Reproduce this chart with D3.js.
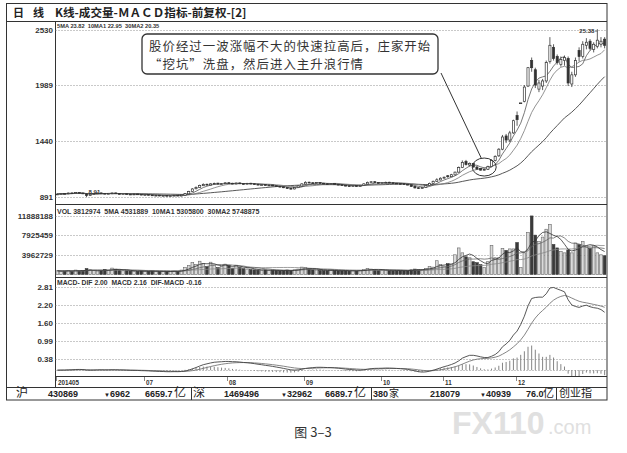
<!DOCTYPE html>
<html><head><meta charset="utf-8">
<script src="https://cdn.jsdelivr.net/npm/d3@7"></script>
<style>
html,body{margin:0;padding:0;background:#fff;}
svg{display:block;}
text{font-family:"Liberation Sans","DejaVu Sans",Arial,sans-serif;}
.cjk{font-family:"Noto Sans CJK SC","Noto Sans CJK JP",sans-serif;}
.pre{white-space:pre;}
</style></head><body>
<svg id="c" width="627" height="453" fill="#222"></svg>
<script>
// ---------------- data ----------------
const monthLabels = ["201405","07","08","09","10","11","12"];
const monthIndex  = [0,24,47,68,89,106,126];

const opens = [
9.15,9.20,9.26,9.22,9.31,9.28,9.36,9.30,9.22,9.06,
9.18,9.24,9.31,9.27,9.21,9.25,9.31,9.25,9.19,9.23,
9.19,9.14,9.21,9.18,9.11,9.16,9.11,9.04,9.09,9.01,
9.07,9.00,9.03,9.09,9.01,9.08,9.22,9.44,9.72,9.84,
10.02,10.16,10.08,10.18,10.27,10.17,10.21,10.31,10.26,10.19,
10.29,10.23,10.17,10.26,10.21,10.16,10.08,10.13,10.04,10.09,
10.01,9.96,9.91,9.83,9.76,9.70,9.83,9.98,10.18,10.36,
10.31,10.27,10.33,10.26,10.21,10.17,10.23,10.16,10.11,10.06,
10.01,9.97,10.03,9.94,10.04,10.18,10.33,10.41,10.33,10.27,
10.29,10.36,10.31,10.26,10.23,10.21,10.16,10.11,9.96,9.82,
9.74,9.84,10.03,10.24,10.44,10.58,10.76,11.00,10.90,11.08,
11.35,11.80,12.40,12.05,12.20,11.85,11.70,11.55,11.62,11.90,
12.50,12.95,13.60,14.90,14.50,15.20,16.90,18.15,18.30,19.80,
22.30,21.40,19.50,19.80,20.30,22.20,23.60,22.70,21.90,22.30,
22.50,20.00,20.90,23.30,22.70,23.80,24.20,23.40,23.70,23.90,24.40];

const highs = [
9.25,9.30,9.30,9.34,9.35,9.40,9.40,9.32,9.26,9.22,
9.30,9.34,9.35,9.30,9.30,9.34,9.34,9.28,9.26,9.26,
9.22,9.24,9.24,9.20,9.18,9.18,9.14,9.12,9.12,9.10,
9.10,9.08,9.12,9.12,9.14,9.30,9.52,9.78,9.95,10.12,
10.25,10.22,10.26,10.32,10.30,10.28,10.36,10.35,10.30,10.32,
10.33,10.27,10.30,10.30,10.25,10.20,10.18,10.16,10.12,10.12,
10.04,9.99,9.94,9.86,9.80,9.90,10.06,10.26,10.45,10.42,
10.36,10.38,10.37,10.30,10.26,10.27,10.26,10.20,10.14,10.10,
10.05,10.07,10.06,10.10,10.26,10.42,10.48,10.46,10.36,10.35,
10.42,10.40,10.34,10.30,10.26,10.25,10.20,10.14,10.00,9.86,
9.90,10.10,10.32,10.52,10.75,10.84,10.92,11.05,11.18,11.40,
11.90,12.50,12.55,12.30,12.25,11.95,11.75,11.70,11.98,12.60,
13.00,13.70,15.00,15.10,15.40,16.50,17.30,18.15,19.90,21.67,
22.60,21.60,20.40,20.50,22.30,24.60,23.90,22.90,22.70,22.80,
22.70,21.20,22.60,23.60,24.20,24.50,24.40,24.10,25.38,24.60,24.60];

const lows = [
9.12,9.16,9.18,9.18,9.24,9.25,9.27,9.20,8.91,9.02,
9.14,9.20,9.24,9.18,9.18,9.22,9.22,9.16,9.16,9.14,
9.11,9.10,9.14,9.08,9.08,9.06,9.02,9.00,8.98,8.98,
8.96,8.97,9.00,8.98,8.98,9.05,9.18,9.40,9.66,9.80,
9.98,10.05,10.04,10.14,10.14,10.12,10.18,10.20,10.16,10.15,
10.18,10.14,10.14,10.16,10.12,10.06,10.03,10.02,10.00,9.96,
9.91,9.86,9.78,9.70,9.66,9.66,9.80,9.95,10.14,10.26,
10.22,10.24,10.22,10.16,10.14,10.14,10.12,10.06,10.02,9.96,
9.94,9.93,9.92,9.90,10.00,10.15,10.30,10.28,10.24,10.24,
10.26,10.26,10.22,10.18,10.16,10.12,10.06,9.90,9.76,9.70,
9.70,9.80,10.00,10.20,10.40,10.54,10.72,10.80,10.86,11.04,
11.30,11.75,12.00,11.90,11.80,11.60,11.50,11.50,11.58,11.85,
12.40,12.85,13.50,14.20,14.30,15.10,15.90,18.15,18.20,19.70,
21.20,19.60,19.20,19.40,20.10,22.00,22.30,21.90,21.70,21.80,
19.80,19.70,20.70,22.20,22.50,23.40,23.30,23.10,23.50,23.60,23.50];

const closes = [
9.20,9.25,9.22,9.30,9.28,9.35,9.30,9.24,9.05,9.18,
9.25,9.30,9.28,9.22,9.26,9.30,9.25,9.20,9.22,9.18,
9.15,9.20,9.18,9.12,9.15,9.10,9.05,9.08,9.02,9.06,
9.00,9.04,9.08,9.02,9.10,9.25,9.45,9.70,9.85,10.05,
10.15,10.10,10.20,10.25,10.18,10.22,10.30,10.25,10.20,10.28,
10.22,10.18,10.25,10.20,10.15,10.10,10.12,10.05,10.08,10.00,
9.95,9.90,9.82,9.75,9.72,9.85,10.00,10.20,10.35,10.30,
10.28,10.32,10.25,10.20,10.18,10.22,10.15,10.10,10.05,10.00,
9.98,10.02,9.95,10.05,10.20,10.35,10.40,10.32,10.28,10.30,
10.35,10.30,10.25,10.22,10.20,10.15,10.10,9.95,9.80,9.75,
9.85,10.05,10.25,10.45,10.60,10.75,10.85,10.90,11.10,11.35,
11.80,12.30,12.10,12.20,11.85,11.65,11.55,11.62,11.90,12.50,
12.90,13.60,14.80,14.50,15.20,16.40,16.50,18.15,19.70,21.60,
21.60,19.90,20.10,20.30,22.10,23.80,22.50,22.10,22.40,22.60,
20.10,20.90,22.30,22.70,23.90,24.10,23.50,23.90,24.30,24.20,23.80];

// volume in millions of shares
const volumes = [
0.75,0.68,0.70,0.82,0.65,0.90,0.72,0.80,1.20,0.95,
0.85,0.70,0.78,1.05,0.88,1.30,1.10,0.92,0.75,0.80,
0.70,0.62,0.66,0.74,0.60,0.68,0.72,0.58,0.64,0.60,
0.62,0.58,0.70,0.66,0.90,1.40,1.80,2.40,2.00,2.70,
2.20,1.60,2.50,1.90,1.40,1.60,2.10,1.80,1.30,1.90,
1.50,1.20,1.10,1.00,0.95,0.90,0.85,0.92,0.80,0.88,
0.85,0.78,0.82,0.90,0.75,0.95,1.10,1.50,1.40,1.10,
0.95,0.90,0.85,0.80,0.78,0.85,0.80,0.76,0.74,0.80,
0.70,0.75,0.72,0.85,1.00,1.25,1.10,0.95,0.85,0.90,
0.88,0.80,0.75,0.78,0.82,0.76,0.80,0.95,1.10,1.00,
1.00,1.20,1.60,1.50,2.80,2.00,1.70,2.20,2.00,4.00,
5.40,4.40,3.60,3.40,2.60,2.40,2.00,1.40,2.60,5.90,
3.40,3.40,5.30,4.90,5.20,5.20,6.50,1.40,4.40,8.50,
11.90,8.00,6.70,7.60,9.20,10.20,6.10,5.40,4.70,4.40,
5.00,4.40,6.40,6.10,6.70,5.80,5.30,5.80,4.40,4.00,3.81];

const priceTicks = [25.30,19.89,14.40,8.91];
const priceTickLabels = ["2530","1989","1440","891"];
const volTicks = [11.888188,7.925459,3.962729];
const volTickLabels = ["11888188","7925459","3962729"];
const macdTicks = [2.81,2.20,1.60,0.99,0.38];
const macdTickLabels = ["2.81","2.20","1.60","0.99","0.38"];

const titleText = "K线-成交量-ＭＡＣＤ指标-前复权-[2]";
const priceHeader = "5MA 23.82  10MA1 22.95  30MA2 20.35";
const volHeader = "VOL 3812974  5MA 4531889  10MA1 5305800  30MA2 5748875";
const macdHeader = "MACD- DIF 2.00  MACD 2.16  DIF-MACD -0.16";
const noteLines = ["股价经过一波涨幅不大的快速拉高后，庄家开始","“挖坑”洗盘，然后进入主升浪行情"];
const caption = "图 3–3";

// ---------------- indicators ----------------
function sma(arr, n){ return arr.map((_,i)=>d3.mean(arr.slice(Math.max(0,i-n+1), i+1))); }
function ema(arr, n){ const a=2/(n+1); let e; return arr.map((v,i)=> e = (i===0? v : e + a*(v-e))); }
const ma5 = sma(closes,5), ma10 = sma(closes,10), ma30 = sma(closes,30);
const vma5 = sma(volumes,5), vma10 = sma(volumes,10), vma30 = sma(volumes,30);
const e12 = ema(closes,12), e26 = ema(closes,26);
const dif = e12.map((v,i)=>v-e26[i]);
const dea = ema(dif,9);
const hist = dif.map((v,i)=>v-dea[i]);

// ---------------- layout ----------------
const svg = d3.select("#c");
const N = closes.length;
const PL = 55.5, PR = 606.5;
const x = d3.scaleBand().domain(d3.range(N)).range([56,606]).paddingInner(0.25).paddingOuter(0);
const bw = x.bandwidth();
const xc = i => x(i) + bw/2;

const yP = d3.scaleLinear().domain([8.91,25.30]).range([197,30]);
const yV = d3.scaleLinear().domain([0,11.888188]).range([274.5,216]);
const yM = d3.scaleLinear().domain([0,2.81]).range([370.2,287]);

const defs = svg.append("defs");
function clip(id,y0,y1){ defs.append("clipPath").attr("id",id).append("rect").attr("x",PL).attr("y",y0).attr("width",PR-PL).attr("height",y1-y0); }
clip("cp",22,204); clip("cv",205,277); clip("cm",278,376);

// frame
const frame = svg.append("g").attr("stroke","#333").attr("stroke-width",1).attr("fill","none");
frame.append("rect").attr("x",6.5).attr("y",3.5).attr("width",600.5).attr("height",396.5);
frame.append("line").attr("x1",6.5).attr("x2",607).attr("y1",21.5).attr("y2",21.5);
frame.append("line").attr("x1",PL).attr("x2",PL).attr("y1",21.5).attr("y2",387.5);
frame.append("line").attr("x1",PL).attr("x2",607).attr("y1",204.5).attr("y2",204.5);
frame.append("line").attr("x1",PL).attr("x2",607).attr("y1",277.5).attr("y2",277.5);
frame.append("line").attr("x1",PL).attr("x2",607).attr("y1",376.5).attr("y2",376.5);
frame.append("line").attr("x1",6.5).attr("x2",607).attr("y1",387.5).attr("y2",387.5);
[191.5,371.5,556.5].forEach(xx=>frame.append("line").attr("x1",xx).attr("x2",xx).attr("y1",387.5).attr("y2",400));

// title
svg.append("text").attr("class","cjk").attr("x",13).attr("y",17).attr("font-size",11).attr("font-weight","bold").attr("fill","#222").text("日");
svg.append("text").attr("class","cjk").attr("x",33).attr("y",17).attr("font-size",11).attr("font-weight","bold").attr("fill","#222").text("线");
svg.append("text").attr("class","cjk").attr("x",55).attr("y",17).attr("font-size",11.6).attr("font-weight","bold").attr("fill","#222").text(titleText);

// grids + tick labels
function grid(ticks, labels, scale){
  const g = svg.append("g");
  g.selectAll("line").data(ticks).join("line")
    .attr("x1",PL).attr("x2",PR).attr("y1",d=>Math.round(scale(d))+0.5).attr("y2",d=>Math.round(scale(d))+0.5)
    .attr("stroke","#777").attr("stroke-width",0.8).attr("stroke-dasharray","1,2");
  g.selectAll("text").data(ticks).join("text")
    .attr("x",53).attr("y",d=>scale(d)).attr("dy","0.35em").attr("text-anchor","end")
    .attr("font-size",8).attr("font-weight","bold").attr("fill","#333")
    .text((d,i)=>labels[i]);
}
grid(priceTicks, priceTickLabels, yP);
grid(volTicks, volTickLabels, yV);
grid(macdTicks, macdTickLabels, yM);
svg.append("line").attr("x1",PL).attr("x2",PR).attr("y1",Math.round(yM(0))+0.5).attr("y2",Math.round(yM(0))+0.5)
  .attr("stroke","#777").attr("stroke-width",0.8).attr("stroke-dasharray","1,2");

// headers
svg.append("text").attr("class","pre").attr("x",57).attr("y",28).attr("font-size",5.7).attr("font-weight","bold").attr("fill","#333").text(priceHeader);
svg.append("text").attr("class","pre").attr("x",57).attr("y",213.5).attr("font-size",7).attr("font-weight","bold").attr("fill","#333").text(volHeader);
svg.append("text").attr("class","pre").attr("x",57).attr("y",284.5).attr("font-size",6.8).attr("font-weight","bold").attr("fill","#333").text(macdHeader);

// ---------- price panel ----------
const gp = svg.append("g").attr("clip-path","url(#cp)");
const idx = d3.range(N);
const line = (scale) => d3.line().x((d,i)=>xc(i)).y(d=>scale(d));
gp.append("path").attr("d",line(yP)(ma30)).attr("fill","none").attr("stroke","#444").attr("stroke-width",0.9);
gp.append("path").attr("d",line(yP)(ma10)).attr("fill","none").attr("stroke","#777").attr("stroke-width",0.8);
gp.append("path").attr("d",line(yP)(ma5)).attr("fill","none").attr("stroke","#555").attr("stroke-width",0.8);
gp.selectAll("line.w").data(idx).join("line").attr("class","w")
  .attr("x1",xc).attr("x2",xc).attr("y1",i=>yP(highs[i])).attr("y2",i=>yP(lows[i]))
  .attr("stroke","#333").attr("stroke-width",0.8);
gp.selectAll("rect.b").data(idx).join("rect").attr("class","b")
  .attr("x",i=>x(i)+0.3).attr("width",bw-0.6)
  .attr("y",i=>yP(Math.max(opens[i],closes[i])))
  .attr("height",i=>Math.max(0.8,Math.abs(yP(opens[i])-yP(closes[i]))))
  .attr("fill",i=>closes[i]>=opens[i]?"#fff":"#333")
  .attr("stroke","#333").attr("stroke-width",0.7);

// low / high labels
const iLow = lows.indexOf(d3.min(lows)), iHigh = highs.indexOf(d3.max(highs));
svg.append("text").attr("x",xc(iLow)+2).attr("y",yP(lows[iLow])-3).attr("font-size",6).attr("font-weight","bold").attr("fill","#333").text(d3.min(lows).toFixed(2));
svg.append("text").attr("x",xc(iHigh)-3).attr("y",yP(highs[iHigh])+4).attr("text-anchor","end").attr("font-size",6).attr("font-weight","bold").attr("fill","#333").text(d3.max(highs).toFixed(2));
svg.append("line").attr("x1",xc(iHigh)-2.5).attr("x2",xc(iHigh)).attr("y1",yP(highs[iHigh])+2).attr("y2",yP(highs[iHigh])+2).attr("stroke","#333").attr("stroke-width",0.6);

// ---------- volume panel ----------
const gv = svg.append("g").attr("clip-path","url(#cv)");
gv.selectAll("rect").data(idx).join("rect")
  .attr("x",i=>x(i)).attr("width",bw)
  .attr("y",i=>yV(volumes[i])).attr("height",i=>yV(0)-yV(volumes[i]))
  .attr("fill",i=>closes[i]>=opens[i]?"#dadada":"#3a3a3a")
  .attr("stroke",i=>closes[i]>=opens[i]?"#666":"#3a3a3a").attr("stroke-width",0.6);
gv.append("path").attr("d",line(yV)(vma30)).attr("fill","none").attr("stroke","#888").attr("stroke-width",0.8);
gv.append("path").attr("d",line(yV)(vma10)).attr("fill","none").attr("stroke","#666").attr("stroke-width",0.8);
gv.append("path").attr("d",line(yV)(vma5)).attr("fill","none").attr("stroke","#333").attr("stroke-width",0.8);

// ---------- MACD panel ----------
const gm = svg.append("g").attr("clip-path","url(#cm)");
gm.selectAll("line").data(idx).join("line")
  .attr("x1",xc).attr("x2",xc).attr("y1",yM(0)).attr("y2",i=>yM(hist[i]))
  .attr("stroke","#777").attr("stroke-width",0.9);
gm.append("path").attr("d",line(yM)(dea)).attr("fill","none").attr("stroke","#777").attr("stroke-width",0.9);
gm.append("path").attr("d",line(yM)(dif)).attr("fill","none").attr("stroke","#444").attr("stroke-width",0.9);

// ---------- date axis ----------
const gd = svg.append("g");
monthIndex.forEach((mi,k)=>{
  const xx = Math.round(x(mi))+0.5;
  gd.append("line").attr("x1",xx).attr("x2",xx).attr("y1",377).attr("y2",381).attr("stroke","#555").attr("stroke-width",0.7);
  gd.append("text").attr("x",xx+1.5).attr("y",384.5).attr("font-size",6.3).attr("font-weight","bold").attr("fill","#333").text(monthLabels[k]);
});

// ---------- callout ----------
const ex = xc(117), ey = yP(11.85);
svg.append("line").attr("x1",441).attr("y1",73).attr("x2",ex-3).attr("y2",ey-9).attr("stroke","#333").attr("stroke-width",1);
svg.append("ellipse").attr("cx",ex).attr("cy",ey).attr("rx",12).attr("ry",9).attr("fill","none").attr("stroke","#333").attr("stroke-width",1);
svg.append("rect").attr("x",142).attr("y",34).attr("width",296).attr("height",40).attr("rx",5)
  .attr("fill","#fff").attr("stroke","#333").attr("stroke-width",1.3);
noteLines.forEach((t,k)=>svg.append("text").attr("class","cjk").attr("x",149).attr("y",50.8+k*18.3)
  .attr("font-size",12.4).attr("letter-spacing",1.05).attr("fill","#333").text(t));

// ---------- status bar ----------
const sb = svg.append("g").attr("font-weight","bold").attr("font-size",9).attr("fill","#222");
function st(xx, t, cls, fs){ const e = sb.append("text").attr("x",xx).attr("y",397).text(t); if(cls) e.attr("class",cls); if(fs) e.attr("font-size",fs); return e; }
st(16,"沪","cjk",12).attr("font-weight","normal");
st(48,"430869");
st(104,"▼","",6); st(110,"6962");
st(145,"6659.7"); st(174,"亿","cjk",12).attr("font-weight","normal");
st(193,"深","cjk",12).attr("font-weight","normal");
st(224,"1469496");
st(281,"▼","",6); st(287,"32962");
st(325,"6689.7"); st(354,"亿","cjk",12).attr("font-weight","normal");
st(373,"380"); st(389,"家","cjk",10).attr("font-weight","normal");
st(430,"218079");
st(480,"▼","",6); st(486,"40939");
st(526,"76.0"); st(543,"亿","cjk",11).attr("font-weight","normal");
st(559,"创业指","cjk",11).attr("font-weight","normal");

// watermark (as in the scanned reference), kept just below the status bar
const wm = svg.append("g");
wm.append("text").attr("x",452).attr("y",434).attr("font-size",32).attr("font-weight","bold")
  .attr("fill","#e0e0e0").text("FX110");
wm.append("text").attr("x",548).attr("y",434).attr("font-size",20)
  .attr("fill","#e0e0e0").text(".com");

// caption
svg.append("text").attr("class","cjk").attr("x",313).attr("y",437).attr("text-anchor","middle")
  .attr("font-size",13).attr("fill","#333").text(caption);
</script>
</body></html>
